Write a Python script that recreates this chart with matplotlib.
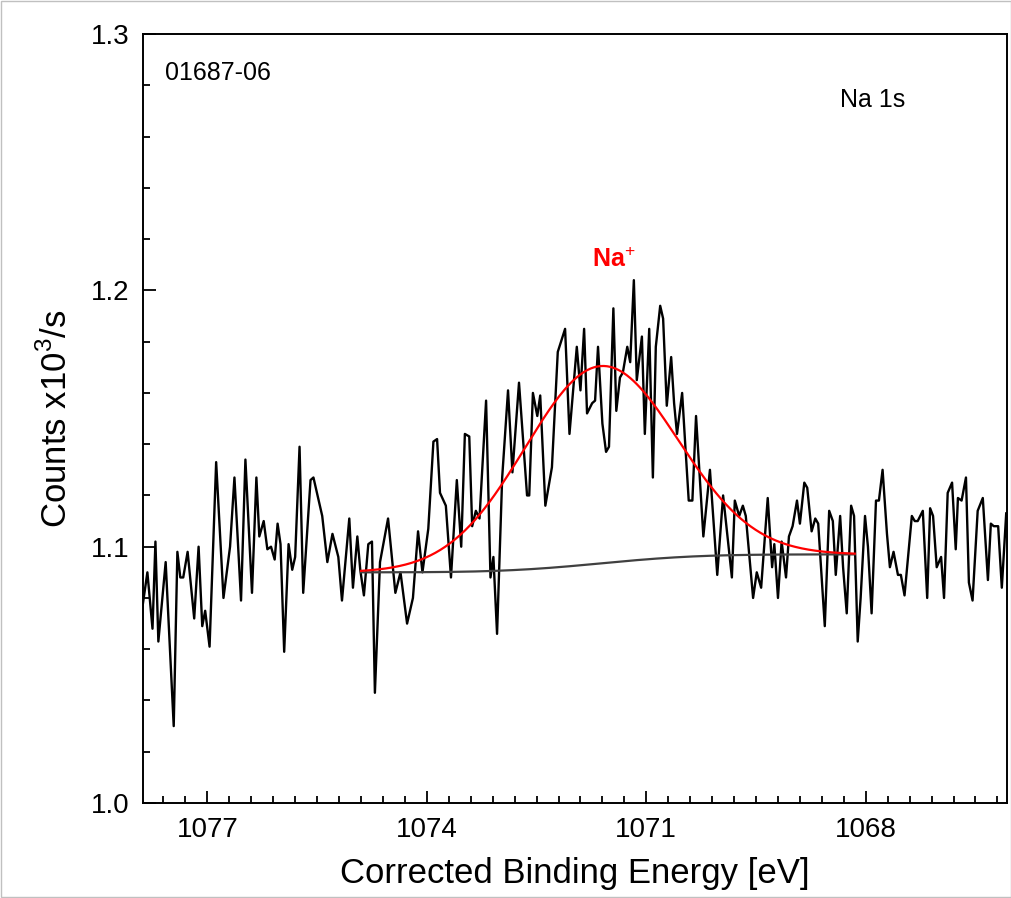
import numpy as np
import matplotlib.pyplot as plt
from matplotlib.ticker import MultipleLocator

plt.rcParams['font.family'] = ['Liberation Sans', 'DejaVu Sans']
plt.rcParams['mathtext.fontset'] = 'custom'
plt.rcParams['mathtext.rm'] = 'Liberation Sans'
plt.rcParams['mathtext.bf'] = 'Liberation Sans:bold'

# spectrum (binding energy [eV], counts x10^3/s)
energy = [1077.92, 1077.82, 1077.75, 1077.71, 1077.67, 1077.57, 1077.46, 1077.41, 1077.37, 1077.33,
          1077.27, 1077.18, 1077.12, 1077.07, 1077.03, 1076.97, 1076.88, 1076.78, 1076.69, 1076.63,
          1076.54, 1076.48, 1076.39, 1076.33, 1076.29, 1076.23, 1076.18, 1076.13, 1076.08, 1076.04,
          1076.00, 1075.95, 1075.89, 1075.84, 1075.80, 1075.74, 1075.69, 1075.59, 1075.55, 1075.43,
          1075.36, 1075.29, 1075.21, 1075.16, 1075.06, 1075.01, 1074.95, 1074.91, 1074.86, 1074.80,
          1074.75, 1074.71, 1074.64, 1074.53, 1074.43, 1074.36, 1074.27, 1074.19, 1074.12, 1074.06,
          1073.98, 1073.91, 1073.86, 1073.82, 1073.74, 1073.67, 1073.59, 1073.53, 1073.48, 1073.42,
          1073.38, 1073.33, 1073.28, 1073.19, 1073.13, 1073.09, 1073.04, 1072.97, 1072.89, 1072.83,
          1072.74, 1072.63, 1072.60, 1072.55, 1072.49, 1072.45, 1072.38, 1072.29, 1072.21, 1072.11,
          1072.05, 1071.95, 1071.90, 1071.85, 1071.81, 1071.74, 1071.70, 1071.66, 1071.60, 1071.55,
          1071.51, 1071.45, 1071.41, 1071.36, 1071.32, 1071.26, 1071.22, 1071.17, 1071.13, 1071.06,
          1071.02, 1070.96, 1070.91, 1070.87, 1070.81, 1070.77, 1070.72, 1070.66, 1070.62, 1070.58,
          1070.51, 1070.47, 1070.42, 1070.37, 1070.32, 1070.22, 1070.13, 1070.03, 1069.95, 1069.83,
          1069.79, 1069.73, 1069.68, 1069.64, 1069.54, 1069.49, 1069.43, 1069.34, 1069.28, 1069.25,
          1069.20, 1069.15, 1069.09, 1069.05, 1069.00, 1068.94, 1068.90, 1068.84, 1068.80, 1068.74,
          1068.69, 1068.65, 1068.56, 1068.50, 1068.45, 1068.41, 1068.35, 1068.31, 1068.26, 1068.20,
          1068.16, 1068.11, 1068.07, 1068.01, 1067.97, 1067.92, 1067.86, 1067.82, 1067.77, 1067.71,
          1067.67, 1067.62, 1067.56, 1067.52, 1067.47, 1067.37, 1067.33, 1067.29, 1067.22, 1067.16,
          1067.12, 1067.08, 1067.03, 1066.97, 1066.93, 1066.88, 1066.82, 1066.77, 1066.74, 1066.69,
          1066.63, 1066.59, 1066.54, 1066.47, 1066.40, 1066.33, 1066.29, 1066.25, 1066.19, 1066.14,
          1066.08]
counts = [1.070, 1.090, 1.068, 1.102, 1.063, 1.094, 1.030, 1.098, 1.088, 1.088,
          1.098, 1.072, 1.100, 1.069, 1.075, 1.061, 1.133, 1.080, 1.100, 1.127,
          1.079, 1.134, 1.082, 1.127, 1.104, 1.110, 1.099, 1.100, 1.095, 1.109,
          1.101, 1.059, 1.101, 1.091, 1.096, 1.139, 1.082, 1.126, 1.127, 1.112,
          1.094, 1.105, 1.096, 1.079, 1.111, 1.084, 1.104, 1.091, 1.081, 1.101,
          1.102, 1.043, 1.094, 1.111, 1.082, 1.090, 1.070, 1.080, 1.106, 1.090,
          1.107, 1.141, 1.142, 1.121, 1.116, 1.088, 1.126, 1.100, 1.144, 1.143,
          1.108, 1.114, 1.111, 1.157, 1.088, 1.096, 1.066, 1.127, 1.161, 1.129,
          1.164, 1.120, 1.120, 1.160, 1.151, 1.159, 1.116, 1.131, 1.176, 1.185,
          1.144, 1.178, 1.161, 1.185, 1.152, 1.156, 1.157, 1.178, 1.148, 1.137,
          1.139, 1.193, 1.153, 1.166, 1.168, 1.178, 1.172, 1.204, 1.165, 1.182,
          1.144, 1.185, 1.127, 1.178, 1.194, 1.189, 1.155, 1.174, 1.156, 1.144,
          1.160, 1.141, 1.118, 1.118, 1.151, 1.104, 1.130, 1.089, 1.120, 1.088,
          1.118, 1.112, 1.116, 1.112, 1.080, 1.090, 1.084, 1.119, 1.092, 1.101,
          1.080, 1.102, 1.088, 1.104, 1.108, 1.118, 1.109, 1.125, 1.123, 1.106,
          1.111, 1.109, 1.069, 1.114, 1.110, 1.089, 1.112, 1.092, 1.074, 1.116,
          1.112, 1.063, 1.080, 1.112, 1.100, 1.074, 1.118, 1.118, 1.130, 1.105,
          1.092, 1.098, 1.089, 1.089, 1.081, 1.112, 1.110, 1.110, 1.114, 1.080,
          1.115, 1.112, 1.092, 1.096, 1.080, 1.121, 1.125, 1.099, 1.119, 1.118,
          1.127, 1.086, 1.079, 1.114, 1.119, 1.087, 1.109, 1.108, 1.108, 1.084,
          1.113]

# fit region and peak parameters
fit_start, fit_end = 1074.9, 1068.15
bg_left, bg_right = 1.090, 1.097
peak_center = 1071.63
peak_height = 0.077
peak_fwhm = 2.46

e_fit = np.linspace(fit_start, fit_end, 300)
sigma = peak_fwhm / 2.3548
peak = peak_height * np.exp(-0.5 * ((e_fit - peak_center) / sigma) ** 2)
frac = np.cumsum(peak[::-1])[::-1]
frac = 1 - frac / frac[0]
background = bg_left + (bg_right - bg_left) * frac

fig = plt.figure(figsize=(10.12, 8.98), dpi=100)
ax = fig.add_axes([0.1413, 0.1058, 0.8537, 0.8562])
ax.plot(energy, counts, color='black', lw=1.7)
ax.plot(e_fit, background, color='#404040', lw=1.6)
ax.plot(e_fit, background + peak, color='red', lw=1.6)

ax.set_xlim(1077.88, 1066.07)
ax.set_ylim(1.0, 1.3)
ax.xaxis.set_major_locator(MultipleLocator(3))
ax.xaxis.set_minor_locator(MultipleLocator(0.3))
ax.yaxis.set_major_locator(MultipleLocator(0.1))
ax.yaxis.set_minor_locator(MultipleLocator(0.02))
ax.tick_params(which='both', direction='in', labelsize=20, top=False, right=False)
ax.tick_params(which='major', length=9, width=1.3, pad=10)
ax.tick_params(which='minor', length=5, width=1.3)
for s in ax.spines.values():
    s.set_linewidth(1.4)

ax.set_xlabel('Corrected Binding Energy [eV]', fontsize=25, labelpad=10)
ax.set_ylabel('Counts x10$^3$/s', fontsize=25, labelpad=12)
ax.text(0.025, 0.965, '01687-06', transform=ax.transAxes, fontsize=18, va='top')
ax.text(0.807, 0.93, 'Na 1s', transform=ax.transAxes, fontsize=18, va='top')
ax.text(1071.45, 1.209, r'Na$^{+}$', color='red', fontsize=18, fontweight='bold', ha='center')

fig.patches.append(plt.Rectangle((0.001, 0.001), 0.998, 0.998, transform=fig.transFigure,
                                 fill=False, edgecolor='#c0c0c0', lw=1))
fig.savefig('out.png', dpi=100)
